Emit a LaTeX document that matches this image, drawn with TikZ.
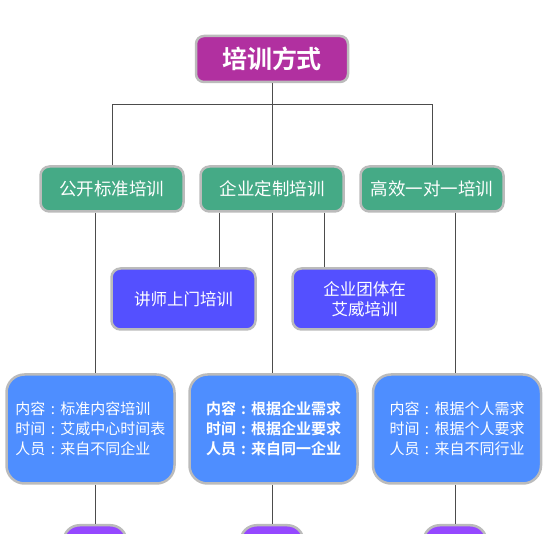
\documentclass[tikz,border=0pt]{standalone}
\usepackage{fontspec}
\newfontfamily\cjk{Noto Sans CJK SC}[BoldFont={Noto Sans CJK SC Bold}]
\usetikzlibrary{positioning}
\newcommand{\colsep}{\makebox[1em]{:}}

\begin{document}
\begin{tikzpicture}[
    x=1pt, y=-1pt,
    every node/.style = {font=\cjk, text=white},
    box/.style = {
        rectangle, rounded corners=9pt,
        draw={rgb,255:red,187;green,187;blue,187}, line width=2.5pt,
        align=center, inner sep=2pt
    },
    head/.style = {
        box, rounded corners=8pt,
        fill={rgb,255:red,177;green,48;blue,160},
        minimum width=152pt, minimum height=46pt,
        font=\cjk\bfseries\fontsize{25}{30}\selectfont
    },
    kind/.style = {
        box, fill={rgb,255:red,69;green,170;blue,134},
        minimum width=143pt, minimum height=45pt,
        font=\cjk\fontsize{17.5}{21}\selectfont
    },
    sub/.style = {
        box, fill={rgb,255:red,84;green,80;blue,255},
        minimum width=144pt, minimum height=61pt,
        font=\cjk\fontsize{16.5}{20}\selectfont
    },
    info/.style = {
        box, rounded corners=18pt,
        fill={rgb,255:red,78;green,142;blue,255},
        minimum width=168pt, minimum height=109pt, align=left,
        font=\cjk\fontsize{15}{20}\selectfont
    },
    tail/.style = {
        box, rounded corners=16pt,
        fill={rgb,255:red,149;green,72;blue,255},
        minimum width=63pt, minimum height=40pt
    },
    link/.style = {line width=0.9pt, color=black!70}
]
\useasboundingbox (0,0) rectangle (550,534);

%% Top and the three kinds
\node[head] (title) at (272,59) {培训方式};
\node[kind] (custom) at (272,189) {企业定制培训};
\node[kind, left=14.5pt of custom]  (open)   {公开标准培训};
\node[kind, right=14.5pt of custom] (single) {高效一对一培训};

%% Ways of the custom training
\node[sub] (onsite) at (183.5,299) {讲师上门培训};
\node[sub] (group)  at (364.5,299) {企业团体在\\艾威培训};

%% Details
\node[info] (openinfo) at (90.5,429)
    {内容\colsep 标准内容培训\\时间\colsep 艾威中心时间表\\人员\colsep 来自不同企业};
\node[info, font=\cjk\bfseries\fontsize{15}{20}\selectfont] (custominfo) at (273.5,429)
    {内容\colsep 根据企业需求\\时间\colsep 根据企业要求\\人员\colsep 来自同一企业};
\node[info] (singleinfo) at (457,429)
    {内容\colsep 根据个人需求\\时间\colsep 根据个人要求\\人员\colsep 来自不同行业};

%% Bottom nodes (cut by the page)
\node[tail, anchor=north] (openend)   at (95,524)  {};
\node[tail, anchor=north] (customend) at (272,524) {};
\node[tail, anchor=north] (singleend) at (455,524) {};

%% Tree lines
\draw[link] (title.south) -- ++(0,21) coordinate (fork);
\draw[link] (open.north) |- (fork) -| (single.north);
\draw[link] (fork) -- (custom.north);

\draw[link] ([xshift=-53pt]custom.south) -- ([xshift=-53pt]custom.south |- onsite.north);
\draw[link] ([xshift=52pt]custom.south) -- ([xshift=52pt]custom.south |- group.north);

\draw[link] (open.south -| openend.north) -- (openinfo.north -| openend.north);
\draw[link] (custom.south -| customend.north) -- (custominfo.north -| customend.north);
\draw[link] (single.south -| singleend.north) -- (singleinfo.north -| singleend.north);

\draw[link] (openinfo.south -| openend.north) -- (openend.north);
\draw[link] (custominfo.south -| customend.north) -- (customend.north);
\draw[link] (singleinfo.south -| singleend.north) -- (singleend.north);

\end{tikzpicture}
\end{document}
